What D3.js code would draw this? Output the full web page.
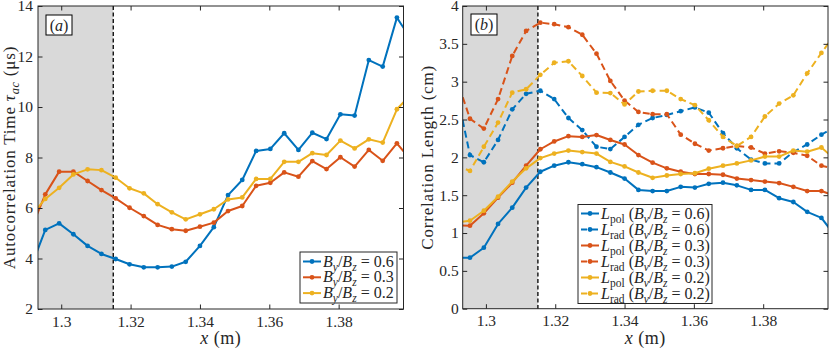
<!DOCTYPE html>
<html>
<head>
<meta charset="utf-8">
<script src="https://cdn.jsdelivr.net/npm/d3@7"></script>
<style>
  body { margin: 0; background: #fff; }
  svg { display: block; }
  text { font-family: "Liberation Serif", "DejaVu Serif", serif; fill: #262626; }
</style>
</head>
<body>
<svg width="830" height="350"></svg>
<script>
// x positions of the probe (m), shared by both panels
var xPos = [1.2913, 1.2954, 1.2994, 1.3035, 1.3076, 1.3116, 1.3157, 1.3197, 1.3238, 1.3278,
            1.3319, 1.3359, 1.3400, 1.3440, 1.3481, 1.3522, 1.3562, 1.3603, 1.3643, 1.3684,
            1.3724, 1.3765, 1.3805, 1.3846, 1.3887, 1.3927, 1.3968, 1.4008];

// panel (a): autocorrelation time (us)
var tauB06 = [3.67, 5.13, 5.39, 4.96, 4.50, 4.18, 3.98, 3.77, 3.65, 3.65, 3.68, 3.87, 4.50, 5.24,
              6.51, 7.11, 8.26, 8.34, 8.96, 8.30, 8.98, 8.73, 9.71, 9.66, 11.86, 11.60, 13.54, 12.7];
var tauB03 = [5.16, 6.54, 7.44, 7.44, 7.07, 6.71, 6.38, 6.01, 5.68, 5.33, 5.16, 5.10, 5.26, 5.42,
              5.88, 6.08, 6.88, 7.00, 7.41, 7.24, 7.86, 7.54, 8.01, 7.64, 8.30, 7.87, 8.56, 7.9];
var tauB02 = [5.7, 6.36, 6.80, 7.33, 7.53, 7.50, 7.20, 6.78, 6.58, 6.15, 5.83, 5.55, 5.75, 5.95,
              6.34, 6.42, 7.15, 7.15, 7.83, 7.83, 8.17, 8.10, 8.67, 8.36, 8.72, 8.59, 9.91, 10.5];

// panel (b): correlation lengths (cm)
var polB06 = [0.67, 0.674, 0.806, 1.12, 1.335, 1.60, 1.81, 1.89, 1.935, 1.91, 1.87, 1.80, 1.72, 1.57,
              1.555, 1.555, 1.61, 1.60, 1.65, 1.665, 1.63, 1.57, 1.57, 1.46, 1.41, 1.28, 1.20, 0.96];
var radB06 = [2.92, 2.03, 1.935, 2.23, 2.635, 2.84, 2.88, 2.77, 2.52, 2.36, 2.14, 2.11, 2.27, 2.43,
              2.52, 2.56, 2.61, 2.66, 2.59, 2.32, 2.12, 1.97, 1.92, 1.92, 2.07, 2.17, 2.30, 2.4];
var polB03 = [1.1, 1.097, 1.26, 1.467, 1.665, 1.89, 2.107, 2.21, 2.28, 2.27, 2.295, 2.23, 2.17, 2.03,
              1.93, 1.855, 1.81, 1.78, 1.78, 1.77, 1.72, 1.70, 1.68, 1.66, 1.61, 1.555, 1.555, 1.49];
var radB03 = [3.07, 2.51, 2.38, 2.77, 3.34, 3.67, 3.78, 3.76, 3.72, 3.62, 3.37, 3.01, 2.75, 2.60,
              2.57, 2.57, 2.30, 2.18, 2.09, 2.12, 2.15, 2.13, 2.05, 2.08, 2.06, 2.02, 1.89, 1.85];
var polB02 = [1.14, 1.163, 1.295, 1.48, 1.68, 1.855, 1.99, 2.05, 2.09, 2.07, 2.05, 1.94, 1.88, 1.80,
              1.73, 1.76, 1.78, 1.79, 1.85, 1.89, 1.92, 1.96, 2.01, 2.01, 2.09, 2.075, 2.13, 1.97];
var radB02 = [1.9, 1.82, 2.14, 2.46, 2.855, 2.90, 3.09, 3.25, 3.27, 3.075, 2.855, 2.85, 2.70, 2.87,
              2.88, 2.88, 2.77, 2.69, 2.49, 2.27, 2.15, 2.27, 2.54, 2.71, 2.82, 3.11, 3.38, 3.63];

var ratios = ["0.6", "0.3", "0.2"];
var xTicks = [1.3, 1.32, 1.34, 1.36, 1.38];
var yTicksA = [2, 4, 6, 8, 10, 12, 14];
var yTicksB = [0, 0.5, 1, 1.5, 2, 2.5, 3, 3.5, 4];
var xDomain = [1.2933, 1.3987];
var shadeEnd = 1.315;

var colors = ["#0072BD", "#D95319", "#EDB120"];

var svg = d3.select("svg");

// writes a list of text pieces into a <text>, handling italics and subscripts
function richText(textSel, parts) {
    var shift = 0;
    parts.forEach(function (p) {
        var want = p.sub ? 4 : 0;
        var ts = textSel.append("tspan").text(p.t);
        if (want !== shift) { ts.attr("dy", want - shift); shift = want; }
        if (p.it) ts.attr("font-style", "italic");
        if (p.sub) ts.attr("font-size", "72%");
    });
}

function drawPanel(cfg) {
    var box = cfg.box;
    var x = d3.scaleLinear().domain(xDomain).range([box.left, box.right]);
    var y = d3.scaleLinear().domain(cfg.yDomain).range([box.bottom, box.top]);
    var g = svg.append("g");

    var clipId = "clip" + cfg.name;
    svg.append("clipPath").attr("id", clipId)
        .append("rect")
        .attr("x", box.left).attr("y", box.top)
        .attr("width", box.right - box.left).attr("height", box.bottom - box.top);

    // shaded region and dividing line
    g.append("rect")
        .attr("x", box.left).attr("y", box.top)
        .attr("width", x(shadeEnd) - box.left).attr("height", box.bottom - box.top)
        .attr("fill", "#d9d9d9");

    g.append("line")
        .attr("x1", x(shadeEnd)).attr("x2", x(shadeEnd))
        .attr("y1", box.top).attr("y2", box.bottom)
        .attr("stroke", "#000").attr("stroke-width", 1.3)
        .attr("stroke-dasharray", "4,2.5");

    // data
    var plot = g.append("g").attr("clip-path", "url(#" + clipId + ")");
    var line = d3.line().x(function (d) { return x(d[0]); }).y(function (d) { return y(d[1]); });

    cfg.series.forEach(function (s) {
        var pts = xPos.map(function (v, i) { return [v, s.values[i]]; });
        plot.append("path")
            .attr("d", line(pts))
            .attr("fill", "none")
            .attr("stroke", s.color)
            .attr("stroke-width", 2)
            .attr("stroke-linejoin", "round")
            .attr("stroke-dasharray", s.dashed ? "7,4" : null);
        plot.selectAll(null).data(pts).enter().append("circle")
            .attr("cx", function (d) { return x(d[0]); })
            .attr("cy", function (d) { return y(d[1]); })
            .attr("r", 2.4)
            .attr("fill", s.color);
    });

    // axes, ticks pointing inward
    var tl = 4.5;
    g.append("g").attr("transform", "translate(0," + box.bottom + ")")
        .call(d3.axisBottom(x).tickValues(xTicks).tickSize(-tl).tickSizeOuter(0).tickPadding(6.5)
            .tickFormat(d3.format("")));
    g.append("g").attr("transform", "translate(0," + box.top + ")")
        .call(d3.axisTop(x).tickValues(xTicks).tickSize(-tl).tickSizeOuter(0).tickFormat(""));
    g.append("g").attr("transform", "translate(" + box.left + ",0)")
        .call(d3.axisLeft(y).tickValues(cfg.yTicks).tickSize(-tl).tickSizeOuter(0).tickPadding(cfg.yPad)
            .tickFormat(d3.format("")));
    g.append("g").attr("transform", "translate(" + box.right + ",0)")
        .call(d3.axisRight(y).tickValues(cfg.yTicks).tickSize(-tl).tickSizeOuter(0).tickFormat(""));

    g.selectAll(".domain").remove();
    g.selectAll(".tick line").attr("stroke", "#262626");
    g.selectAll(".tick text")
        .attr("fill", "#262626")
        .style("font-family", '"Liberation Serif", serif')
        .style("font-size", "15.5px");

    g.append("rect")
        .attr("x", box.left).attr("y", box.top)
        .attr("width", box.right - box.left).attr("height", box.bottom - box.top)
        .attr("fill", "none").attr("stroke", "#262626").attr("stroke-width", 1);

    // axis labels
    var xl = g.append("text")
        .attr("x", (box.left + box.right) / 2).attr("y", 344)
        .attr("text-anchor", "middle").style("font-size", "18px")
        .style("letter-spacing", "0.5px");
    richText(xl, [{ t: "x", it: true }, { t: " (m)" }]);

    var yl = g.append("text")
        .attr("transform", "translate(" + cfg.yLabelX + "," + ((box.top + box.bottom) / 2) + ") rotate(-90)")
        .attr("text-anchor", "middle").style("font-size", "17px")
        .style("letter-spacing", "0.8px");
    richText(yl, cfg.yLabel);

    // panel letter
    var pl = cfg.letterBox;
    g.append("rect")
        .attr("x", pl.x).attr("y", pl.y).attr("width", pl.w).attr("height", pl.h)
        .attr("fill", "#fff").attr("stroke", "#000").attr("stroke-width", 1);
    var lt = g.append("text")
        .attr("x", pl.x + pl.w / 2).attr("y", pl.y + pl.h / 2 + 5.5)
        .attr("text-anchor", "middle").style("font-size", "16px");
    richText(lt, [{ t: "(" }, { t: cfg.letter, it: true }, { t: ")" }]);

    // legend
    var lg = cfg.legend;
    g.append("rect")
        .attr("x", lg.x).attr("y", lg.y).attr("width", lg.w).attr("height", lg.h)
        .attr("fill", "#fff").attr("stroke", "#262626").attr("stroke-width", 1);
    cfg.series.forEach(function (s, i) {
        var ry = lg.y + lg.first + i * lg.step;
        g.append("line")
            .attr("x1", lg.x + 3).attr("x2", lg.x + 21)
            .attr("y1", ry).attr("y2", ry)
            .attr("stroke", s.color).attr("stroke-width", 2)
            .attr("stroke-dasharray", s.dashed ? "6,5" : null);
        g.append("circle")
            .attr("cx", lg.x + 12).attr("cy", ry).attr("r", 2.4).attr("fill", s.color);
        var t = g.append("text")
            .attr("x", lg.x + 23).attr("y", ry + 5)
            .style("font-size", "16px");
        richText(t, s.label);
    });
}

function ratioLabel(sub, r) {
    return [{ t: "B", it: true }, { t: sub, it: true, sub: true }, { t: "/" },
            { t: "B", it: true }, { t: "z", it: true, sub: true }, { t: " = " + r }];
}

function lengthLabel(kind, r) {
    return [{ t: "L", it: true }, { t: kind, sub: true }, { t: " (" }]
        .concat(ratioLabel("v", r)).concat([{ t: ")" }]);
}

drawPanel({
    name: "A",
    box: { left: 38, right: 403.5, top: 6, bottom: 309 },
    yDomain: [2, 14],
    yTicks: yTicksA,
    yPad: 5,
    yLabelX: 14.5,
    yLabel: [{ t: "Autocorrelation Time " }, { t: "τ", it: true }, { t: "ac", it: true, sub: true },
             { t: " (μs)" }],
    letter: "a",
    letterBox: { x: 46, y: 15, w: 26, h: 20 },
    legend: { x: 300, y: 252, w: 97, h: 51, first: 9.5, step: 15.8 },
    series: [
        { values: tauB06, color: colors[0], label: ratioLabel("y", ratios[0]) },
        { values: tauB03, color: colors[1], label: ratioLabel("y", ratios[1]) },
        { values: tauB02, color: colors[2], label: ratioLabel("y", ratios[2]) }
    ]
});

drawPanel({
    name: "B",
    box: { left: 462.7, right: 828, top: 6, bottom: 308.7 },
    yDomain: [0, 4],
    yTicks: yTicksB,
    yPad: 4,
    yLabelX: 433,
    yLabel: [{ t: "Correlation Length (cm)" }],
    letter: "b",
    letterBox: { x: 471, y: 14, w: 26, h: 21 },
    legend: { x: 578, y: 204.5, w: 134, h: 99, first: 9, step: 16 },
    series: [
        { values: polB06, color: colors[0], label: lengthLabel("pol", ratios[0]) },
        { values: radB06, color: colors[0], dashed: true, label: lengthLabel("rad", ratios[0]) },
        { values: polB03, color: colors[1], label: lengthLabel("pol", ratios[1]) },
        { values: radB03, color: colors[1], dashed: true, label: lengthLabel("rad", ratios[1]) },
        { values: polB02, color: colors[2], label: lengthLabel("pol", ratios[2]) },
        { values: radB02, color: colors[2], dashed: true, label: lengthLabel("rad", ratios[2]) }
    ]
});
</script>
</body>
</html>
